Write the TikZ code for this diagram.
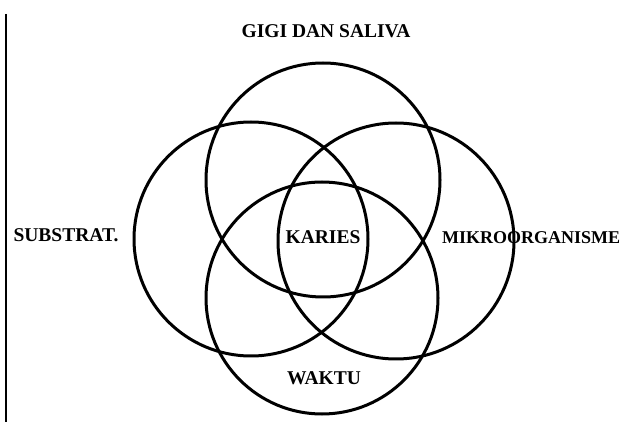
\documentclass[tikz,border=0pt]{standalone}
\usepackage{fontspec}
\setmainfont{Liberation Serif}
\usetikzlibrary{positioning}

\begin{document}
\begin{tikzpicture}[x=1pt,y=-1pt,
    ring/.style={line width=3pt},
    lbl/.style={font=\fontsize{19.5}{21}\selectfont\bfseries, inner sep=0pt}]
          % Fix the page size
          \useasboundingbox (0,0) rectangle (630,422);
          % Define circle centres
          \coordinate (T) at (323,180);
          \coordinate (L) at (251,239);
          \coordinate (R) at (396,241);
          \coordinate (B) at (322,298);
          % Left margin rule
          \coordinate (m1) at (6,14);
          \coordinate (m2) at (6,422);
          \draw[line width=2.2pt] (m1) -- (m2);
          % Draw the four circles
          \draw[ring] (T) circle[radius=117pt];
          \draw[ring] (L) circle[radius=117pt];
          \draw[ring] (R) circle[radius=118pt];
          \draw[ring] (B) circle[radius=116pt];
          % Labels
          \node[lbl] (gigi) at (326,31) {GIGI DAN SALIVA};
          \node[lbl] (substrat) at (66,235) {SUBSTRAT.};
          \node[lbl, anchor=west, font=\fontsize{18}{20}\selectfont\bfseries] (mikro) at (442,238) {MIKROORGANISME};
          \node[lbl] (karies) at (323,237) {KARIES};
          \node[lbl] (waktu) at (324,378) {WAKTU};
        \end{tikzpicture}
\end{document}
